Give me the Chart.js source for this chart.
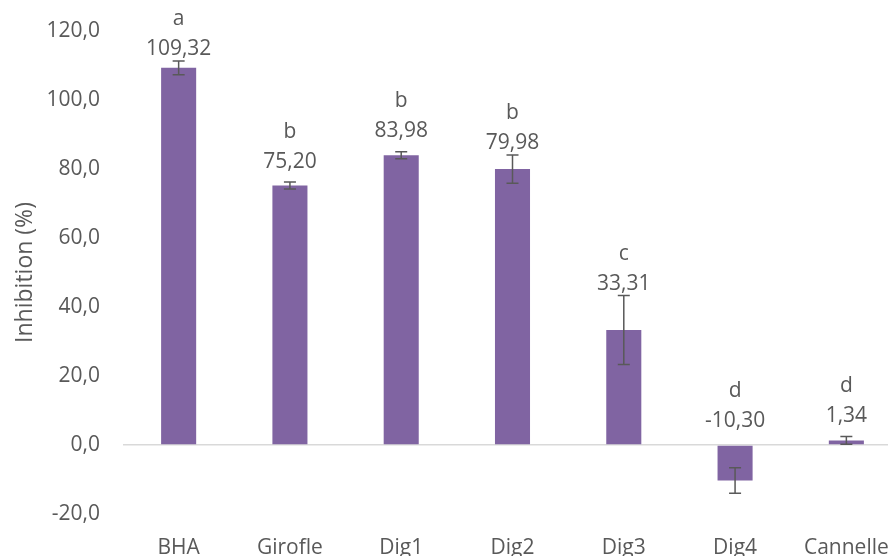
<!DOCTYPE html>
<html lang="fr">
<head>
<meta charset="UTF-8">
<title>Inhibition</title>
<script src="https://cdn.jsdelivr.net/npm/chart.js@4.4.1/dist/chart.umd.min.js"></script>
<style>
    html, body {
        margin: 0;
        padding: 0;
        background: #ffffff;
        overflow: hidden;
    }
    .wrap {
        width: 902px;
        height: 556px;
    }
</style>
</head>
<body>
<div class="wrap">
    <canvas id="chart"></canvas>
</div>
<script>
    const categories = ["BHA", "Girofle", "Dig1", "Dig2", "Dig3", "Dig4", "Cannelle"];
    const inhibition = [109.32, 75.20, 83.98, 79.98, 33.31, -10.30, 1.34];
    const errors = [2.0, 1.0, 1.0, 4.1, 10.0, 3.7, 1.1];
    const letters = ["a", "b", "b", "b", "c", "d", "d"];
    const yTicks = [-20, 0, 20, 40, 60, 80, 100, 120];

    const textColor = "#595959";
    const fontFamily = "'Open Sans', sans-serif";

    function frNumber(v, digits) {
        return v.toFixed(digits).replace(".", ",");
    }

    // error bars + letter/value labels on top of each bar
    const annotate = {
        id: "annotate",
        afterDatasetsDraw(chart) {
            const ctx = chart.ctx;
            const x = chart.scales.x;
            const y = chart.scales.y;
            ctx.save();
            ctx.strokeStyle = textColor;
            ctx.lineWidth = 1.5;
            inhibition.forEach((v, i) => {
                const cx = x.getPixelForValue(i);
                const top = y.getPixelForValue(v + errors[i]);
                const bot = y.getPixelForValue(v - errors[i]);
                ctx.beginPath();
                ctx.moveTo(cx, top);
                ctx.lineTo(cx, bot);
                ctx.moveTo(cx - 6, top);
                ctx.lineTo(cx + 6, top);
                ctx.moveTo(cx - 6, bot);
                ctx.lineTo(cx + 6, bot);
                ctx.stroke();
            });
            ctx.fillStyle = textColor;
            ctx.font = "21px " + fontFamily;
            ctx.textAlign = "center";
            ctx.textBaseline = "middle";
            inhibition.forEach((v, i) => {
                const cx = x.getPixelForValue(i);
                const byBar = y.getPixelForValue(Math.max(v, 0)) - 24;
                const byErr = y.getPixelForValue(v + errors[i]) - 12;
                // keep the letter inside the chart
                const ly = Math.max(Math.min(byBar, byErr), chart.chartArea.top + 18);
                ctx.fillText(frNumber(v, 2), cx, ly);
                ctx.fillText(letters[i], cx, ly - 30);
            });
            ctx.restore();
        }
    };

    new Chart(document.getElementById("chart"), {
        type: "bar",
        data: {
            labels: categories,
            datasets: [{
                label: "Inhibition (%)",
                data: inhibition,
                backgroundColor: "#8064A2",
                borderWidth: 0,
                categoryPercentage: 1,
                barPercentage: 0.315
            }]
        },
        options: {
            responsive: true,
            maintainAspectRatio: false,
            animation: false,
            layout: {
                padding: { top: 31, right: 0, bottom: 0, left: 0 }
            },
            plugins: {
                legend: { display: false },
                tooltip: { enabled: false }
            },
            scales: {
                x: {
                    grid: { display: false },
                    border: { display: false },
                    ticks: {
                        color: textColor,
                        font: { family: fontFamily, size: 21 },
                        padding: 13
                    },
                    afterFit(scale) {
                        scale.height = 42;
                    }
                },
                y: {
                    min: -20,
                    max: 120,
                    afterBuildTicks(scale) {
                        scale.ticks = yTicks.map(v => ({ value: v }));
                    },
                    grid: {
                        color: ctx => ctx.tick && ctx.tick.value === 0 ? "#d9d9d9" : "rgba(0,0,0,0)",
                        lineWidth: 1.5,
                        drawTicks: false
                    },
                    border: { display: false },
                    ticks: {
                        color: textColor,
                        font: { family: fontFamily, size: 21 },
                        padding: 23,
                        callback: v => frNumber(v, 1)
                    },
                    title: {
                        display: true,
                        text: "Inhibition (%)",
                        color: textColor,
                        font: { family: fontFamily, size: 23 },
                        padding: { top: 12, bottom: 0 }
                    },
                    afterFit(scale) {
                        scale.width = 123;
                        scale.paddingTop = 0;
                        scale.paddingBottom = 0;
                    }
                }
            }
        },
        plugins: [annotate]
    });
</script>
</body>
</html>
